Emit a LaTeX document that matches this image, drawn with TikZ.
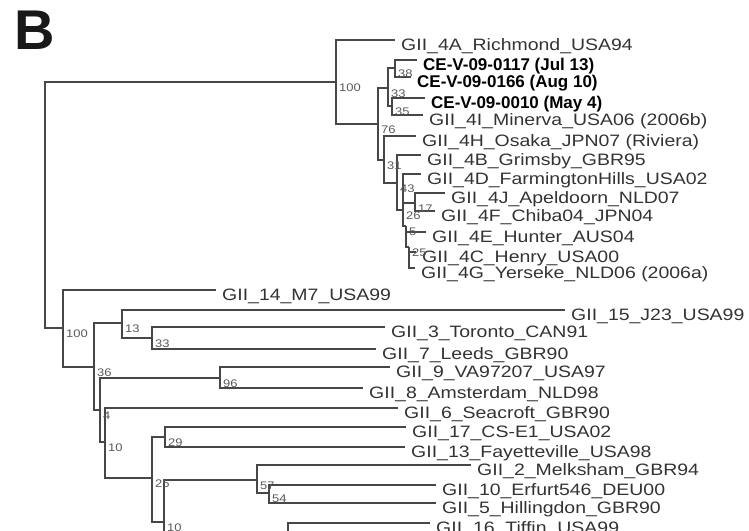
\documentclass[tikz,border=0pt]{standalone}
\usepackage{fontspec}
\setmainfont{Liberation Sans}
\newfontfamily\leaffont{Liberation Sans}[FakeStretch=1.18]
\usetikzlibrary{calc}

\begin{document}
\begin{tikzpicture}[
    x=1pt, y=-1pt,
    branch/.style={draw=black!72, line width=1.9pt},
    leaf/.style={anchor=north west, inner xsep=6pt, inner ysep=0pt, text height=10.5pt, text depth=3pt, text=black!80, font=\leaffont\fontsize{16.5}{18}\selectfont},
    cestrain/.style={leaf, text=black, font=\bfseries\fontsize{17}{19}\selectfont},
    boot/.style={anchor=north west, inner sep=1pt, xshift=2pt, yshift=-1pt, text=black!65, font=\leaffont\fontsize{11}{12}\selectfont},
]
    \useasboundingbox (0,0) rectangle (749,530);
    \clip (0,0) rectangle (749,530);

    % Panel letter
    \node[anchor=base west, inner sep=0pt, font=\bfseries\fontsize{56}{60}\selectfont, text=black!90] (panel) at (14,49) {B};

    % Internal nodes, GII.4 clade
    \coordinate (root) at (45,205);
    \coordinate (A) at (336,82);
    \coordinate (B) at (378,124);
    \coordinate (C) at (388,88);
    \coordinate (E) at (395,68);
    \coordinate (F) at (392,106);
    \coordinate (D) at (384,160);
    \coordinate (G) at (397,183);
    \coordinate (H) at (403,210);
    \coordinate (J) at (415,203);
    \coordinate (K) at (406,226);
    \coordinate (L) at (409,247);

    % Internal nodes, other genotypes
    \coordinate (M) at (63,328);
    \coordinate (N) at (94,367);
    \coordinate (O) at (122,323);
    \coordinate (P) at (152,338);
    \coordinate (N2) at (100,410);
    \coordinate (Q) at (220,378);
    \coordinate (S) at (105,442);
    \coordinate (T) at (152,478);
    \coordinate (U) at (165,437);
    \coordinate (X) at (164,522);
    \coordinate (W) at (257,480);
    \coordinate (Y) at (269,493);
    \coordinate (Z) at (288,560);

    % Leaves, GII.4 clade
    \node[leaf] (richmond) at (395,40) {GII\_4A\_Richmond\_USA94};
    \node[cestrain] (ce0117) at (417,60) {CE-V-09-0117 (Jul 13)};
    \node[cestrain] (ce0166) at (411,77) {CE-V-09-0166 (Aug 10)};
    \node[cestrain] (ce0010) at (425,98) {CE-V-09-0010 (May 4)};
    \node[leaf] (minerva) at (423,115) {GII\_4I\_Minerva\_USA06 (2006b)};
    \node[leaf] (osaka) at (416,136) {GII\_4H\_Osaka\_JPN07 (Riviera)};
    \node[leaf] (grimsby) at (421,155) {GII\_4B\_Grimsby\_GBR95};
    \node[leaf] (farmington) at (421,174) {GII\_4D\_FarmingtonHills\_USA02};
    \node[leaf] (apeldoorn) at (445,193) {GII\_4J\_Apeldoorn\_NLD07};
    \node[leaf] (chiba) at (435,211) {GII\_4F\_Chiba04\_JPN04};
    \node[leaf] (hunter) at (426,232) {GII\_4E\_Hunter\_AUS04};
    \node[leaf] (henry) at (416,252) {GII\_4C\_Henry\_USA00};
    \node[leaf] (yerseke) at (415,268) {GII\_4G\_Yerseke\_NLD06 (2006a)};

    % Leaves, other genotypes
    \node[leaf] (m7) at (216,290) {GII\_14\_M7\_USA99};
    \node[leaf] (j23) at (565,310) {GII\_15\_J23\_USA99};
    \node[leaf] (toronto) at (385,327) {GII\_3\_Toronto\_CAN91};
    \node[leaf] (leeds) at (376,349) {GII\_7\_Leeds\_GBR90};
    \node[leaf] (va97207) at (390,367) {GII\_9\_VA97207\_USA97};
    \node[leaf] (amsterdam) at (363,388) {GII\_8\_Amsterdam\_NLD98};
    \node[leaf] (seacroft) at (398,408) {GII\_6\_Seacroft\_GBR90};
    \node[leaf] (cse1) at (406,427) {GII\_17\_CS-E1\_USA02};
    \node[leaf] (fayetteville) at (405,447) {GII\_13\_Fayetteville\_USA98};
    \node[leaf] (melksham) at (471,465) {GII\_2\_Melksham\_GBR94};
    \node[leaf] (erfurt) at (436,485) {GII\_10\_Erfurt546\_DEU00};
    \node[leaf] (hillingdon) at (436,503) {GII\_5\_Hillingdon\_GBR90};
    \node[leaf] (tiffin) at (430,523) {GII\_16\_Tiffin\_USA99};

    % Branches, GII.4 clade
    \draw[branch] (root) |- (A);
    \draw[branch] (A) |- (richmond.north west);
    \draw[branch] (A) |- (B);
    \draw[branch] (B) |- (C);
    \draw[branch] (B) |- (D);
    \draw[branch] (C) |- (E);
    \draw[branch] (C) |- (F);
    \draw[branch] (E) |- (ce0117.north west);
    \draw[branch] (E) |- (ce0166.north west);
    \draw[branch] (F) |- (ce0010.north west);
    \draw[branch] (F) |- (minerva.north west);
    \draw[branch] (D) |- (osaka.north west);
    \draw[branch] (D) |- (G);
    \draw[branch] (G) |- (grimsby.north west);
    \draw[branch] (G) |- (H);
    \draw[branch] (H) |- (farmington.north west);
    \draw[branch] (H) |- (J);
    \draw[branch] (H) |- (K);
    \draw[branch] (J) |- (apeldoorn.north west);
    \draw[branch] (J) |- (chiba.north west);
    \draw[branch] (K) |- (hunter.north west);
    \draw[branch] (K) |- (L);
    \draw[branch] (L) |- (henry.north west);
    \draw[branch] (L) |- (yerseke.north west);

    % Branches, other genotypes
    \draw[branch] (root) |- (M);
    \draw[branch] (M) |- (m7.north west);
    \draw[branch] (M) |- (N);
    \draw[branch] (N) |- (O);
    \draw[branch] (N) |- (N2);
    \draw[branch] (O) |- (j23.north west);
    \draw[branch] (O) |- (P);
    \draw[branch] (P) |- (toronto.north west);
    \draw[branch] (P) |- (leeds.north west);
    \draw[branch] (N2) |- (Q);
    \draw[branch] (N2) |- (S);
    \draw[branch] (Q) |- (va97207.north west);
    \draw[branch] (Q) |- (amsterdam.north west);
    \draw[branch] (S) |- (seacroft.north west);
    \draw[branch] (S) |- (T);
    \draw[branch] (T) |- (U);
    \draw[branch] (T) |- (X);
    \draw[branch] (U) |- (cse1.north west);
    \draw[branch] (U) |- (fayetteville.north west);
    \draw[branch] (X) |- (W);
    \draw[branch] (X) |- (Z);
    \draw[branch] (W) |- (melksham.north west);
    \draw[branch] (W) |- (Y);
    \draw[branch] (Y) |- (erfurt.north west);
    \draw[branch] (Y) |- (hillingdon.north west);
    \draw[branch] (Z) |- (tiffin.north west);

    % Bootstrap values
    \node[boot] (bA) at (A) {100};
    \node[boot] (bB) at (B) {76};
    \node[boot] (bC) at (C) {33};
    \node[boot] (bE) at (E) {38};
    \node[boot] (bF) at (F) {35};
    \node[boot] (bD) at (D) {31};
    \node[boot] (bG) at (G) {43};
    \node[boot] (bH) at (H) {26};
    \node[boot] (bJ) at (J) {17};
    \node[boot] (bK) at (K) {5};
    \node[boot] (bL) at (L) {25};
    \node[boot] (bM) at (M) {100};
    \node[boot] (bN) at (N) {36};
    \node[boot] (bO) at (O) {13};
    \node[boot] (bP) at (P) {33};
    \node[boot] (bN2) at (N2) {4};
    \node[boot] (bQ) at (Q) {96};
    \node[boot] (bS) at (S) {10};
    \node[boot] (bT) at (T) {25};
    \node[boot] (bU) at (U) {29};
    \node[boot] (bX) at (X) {10};
    \node[boot] (bW) at (W) {57};
    \node[boot] (bY) at (Y) {54};
\end{tikzpicture}
\end{document}
